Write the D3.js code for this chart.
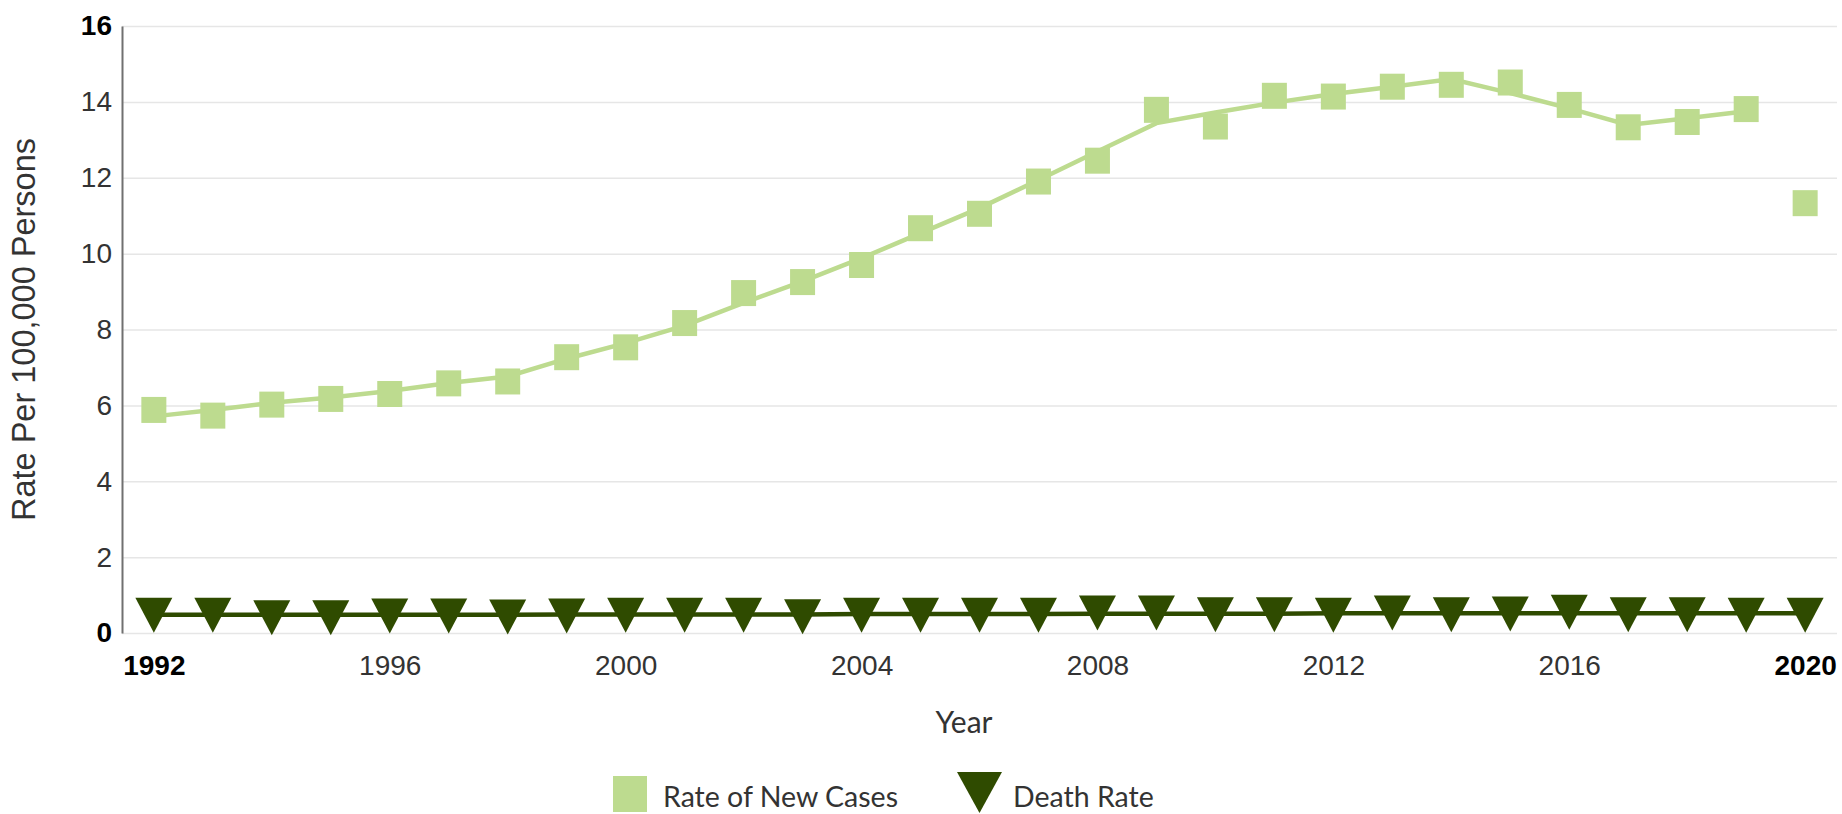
<!DOCTYPE html>
<html>
<head>
<meta charset="utf-8">
<script src="https://cdn.jsdelivr.net/npm/d3@7"></script>
<style>
  body { margin: 0; background: #fff; }
  svg { display: block; }
</style>
</head>
<body>
<div id="chart"></div>
<script>
var svgWidth = 1842;
var svgHeight = 814;

var margin = { top: 26, right: 5, bottom: 181, left: 122 };
var width = svgWidth - margin.left - margin.right;
var height = svgHeight - margin.top - margin.bottom;

// data
var years = [1992, 1993, 1994, 1995, 1996, 1997, 1998, 1999, 2000, 2001,
  2002, 2003, 2004, 2005, 2006, 2007, 2008, 2009, 2010, 2011,
  2012, 2013, 2014, 2015, 2016, 2017, 2018, 2019, 2020];

// observed rate of new cases (squares)
var newCases = [5.88, 5.73, 6.02, 6.17, 6.30, 6.58, 6.63, 7.27, 7.53, 8.17,
  8.96, 9.25, 9.70, 10.67, 11.05, 11.90, 12.45, 13.79, 13.35, 14.16,
  14.14, 14.40, 14.45, 14.51, 13.92, 13.33, 13.47, 13.81, 11.33];

// modeled trend of new cases, 1992-2019 (line)
var newCasesTrend = [5.71, 5.88, 6.07, 6.21, 6.38, 6.59, 6.76, 7.23, 7.64, 8.10,
  8.70, 9.27, 9.88, 10.54, 11.20, 11.94, 12.69, 13.44, 13.72, 13.98,
  14.21, 14.40, 14.60, 14.23, 13.83, 13.39, 13.57, 13.75];

// observed death rate (triangles)
var deathRate = [0.47, 0.47, 0.40, 0.40, 0.45, 0.45, 0.42, 0.45, 0.47, 0.47,
  0.47, 0.43, 0.47, 0.47, 0.47, 0.47, 0.53, 0.53, 0.48, 0.48,
  0.47, 0.53, 0.48, 0.50, 0.55, 0.48, 0.48, 0.47, 0.47];

// modeled death rate trend (line)
var deathTrend = [0.48, 0.48, 0.48, 0.48, 0.48, 0.48, 0.48, 0.49, 0.49, 0.49,
  0.49, 0.49, 0.50, 0.50, 0.50, 0.50, 0.51, 0.51, 0.51, 0.51,
  0.52, 0.52, 0.52, 0.52, 0.52, 0.52, 0.52, 0.52, 0.52];

var xTicks = [1992, 1996, 2000, 2004, 2008, 2012, 2016, 2020];
var yTicks = [0, 2, 4, 6, 8, 10, 12, 14, 16];

var lightGreen = "#bddb8f";
var darkGreen = "#2f4b00";

var svg = d3.select("#chart")
  .append("svg")
  .attr("width", svgWidth)
  .attr("height", svgHeight);

var chartGroup = svg.append("g")
  .attr("transform", `translate(${margin.left}, ${margin.top})`);

// scales
var xScale = d3.scaleLinear()
  .domain([years[0] - 0.54, years[years.length - 1] + 0.54])
  .range([0, width]);

var yScale = d3.scaleLinear()
  .domain([0, 16])
  .range([height, 0]);

// gridlines
chartGroup.append("g")
  .attr("class", "grid")
  .call(d3.axisLeft(yScale).tickValues(yTicks).tickSize(-width).tickFormat(""))
  .call(g => g.select(".domain").remove())
  .call(g => g.selectAll("line").attr("stroke", "#e6e6e6").attr("stroke-width", 1.5));

// y axis
var leftAxis = d3.axisLeft(yScale).tickValues(yTicks).tickSize(0).tickPadding(10);
chartGroup.append("g")
  .attr("class", "leftAxis")
  .call(leftAxis)
  .call(g => g.select(".domain").attr("stroke", "#707070").attr("stroke-width", 2))
  .call(g => g.selectAll("text")
    .attr("font-family", "'Liberation Sans', Arial, sans-serif")
    .attr("font-size", "28px")
    .attr("font-weight", d => (d === 0 || d === 16) ? "bold" : "normal")
    .attr("fill", d => (d === 0 || d === 16) ? "#000" : "#333"));

// x axis (labels only)
var bottomAxis = d3.axisBottom(xScale).tickValues(xTicks).tickSize(0).tickPadding(22)
  .tickFormat(d3.format("d"));
chartGroup.append("g")
  .attr("class", "bottomAxis")
  .attr("transform", `translate(0, ${height})`)
  .call(bottomAxis)
  .call(g => g.select(".domain").remove())
  .call(g => g.selectAll("text")
    .attr("font-family", "'Liberation Sans', Arial, sans-serif")
    .attr("font-size", "28px")
    .attr("font-weight", d => (d === 1992 || d === 2020) ? "bold" : "normal")
    .attr("fill", d => (d === 1992 || d === 2020) ? "#000" : "#333"));

// lines
var line = d3.line()
  .x(d => xScale(d[0]))
  .y(d => yScale(d[1]));

chartGroup.append("path")
  .datum(newCasesTrend.map((v, i) => [years[i], v]))
  .attr("fill", "none")
  .attr("stroke", lightGreen)
  .attr("stroke-width", 4.5)
  .attr("d", line);

chartGroup.append("path")
  .datum(deathTrend.map((v, i) => [years[i], v]))
  .attr("fill", "none")
  .attr("stroke", darkGreen)
  .attr("stroke-width", 4.5)
  .attr("d", line);

// square markers
var sqW = 25, sqH = 26;
chartGroup.append("g")
  .attr("class", "squares")
  .selectAll("rect")
  .data(newCases)
  .enter()
  .append("rect")
  .attr("x", (d, i) => xScale(years[i]) - sqW / 2)
  .attr("y", d => yScale(d) - sqH / 2)
  .attr("width", sqW)
  .attr("height", sqH)
  .attr("fill", lightGreen);

// triangle markers
var triW = 37, triH = 35;
function triPath(cx, cy) {
  return `M${cx - triW / 2},${cy - triH / 2}L${cx + triW / 2},${cy - triH / 2}L${cx},${cy + triH / 2}Z`;
}
chartGroup.append("g")
  .attr("class", "triangles")
  .selectAll("path")
  .data(deathRate)
  .enter()
  .append("path")
  .attr("d", (d, i) => triPath(xScale(years[i]), yScale(d)))
  .attr("fill", darkGreen);

// axis titles
svg.append("text")
  .attr("transform", `translate(35, ${margin.top + height / 2}) rotate(-90)`)
  .attr("text-anchor", "middle")
  .attr("font-family", "'Liberation Sans', Arial, sans-serif")
  .attr("font-size", "32.5px")
  .attr("fill", "#333")
  .text("Rate Per 100,000 Persons");

svg.append("text")
  .attr("x", 964)
  .attr("y", 733)
  .attr("text-anchor", "middle")
  .attr("font-family", "Lato, sans-serif")
  .attr("font-size", "30px")
  .attr("fill", "#333")
  .text("Year");

// legend
var legend = svg.append("g").attr("class", "legend");
legend.append("rect")
  .attr("x", 613).attr("y", 776)
  .attr("width", 34).attr("height", 36)
  .attr("fill", lightGreen);
legend.append("text")
  .attr("x", 663).attr("y", 807)
  .attr("font-family", "Lato, sans-serif")
  .attr("font-size", "28.5px")
  .attr("fill", "#333")
  .text("Rate of New Cases");
legend.append("path")
  .attr("d", "M957,772L1002,772L979.5,813Z")
  .attr("fill", darkGreen);
legend.append("text")
  .attr("x", 1013).attr("y", 807)
  .attr("font-family", "Lato, sans-serif")
  .attr("font-size", "28.5px")
  .attr("fill", "#333")
  .text("Death Rate");
</script>
</body>
</html>
